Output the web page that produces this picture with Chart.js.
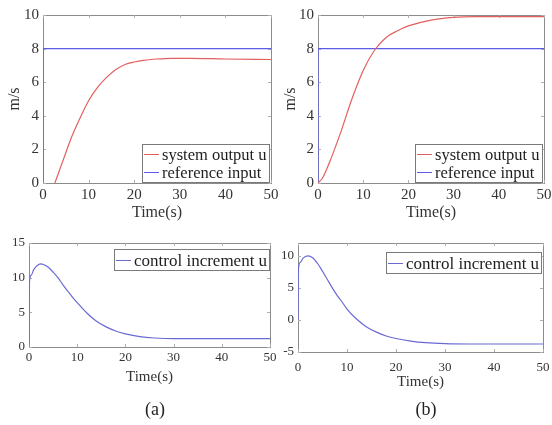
<!DOCTYPE html>
<html lang="en">
<head>
  <meta charset="UTF-8">
  <title>System output and control increment</title>
  <script src="https://cdn.jsdelivr.net/npm/chart.js"></script>
  <style>
    body {
      margin: 0;
      background: #ffffff;
      font-family: 'Liberation Serif', serif;
    }
    .wrap {
      position: relative;
      width: 552px;
      height: 425px;
      overflow: hidden;
    }
    canvas {
      position: absolute;
    }
    .cap {
      position: absolute;
      top: 399px;
      width: 40px;
      text-align: center;
      font-size: 18px;
      color: #222;
    }
  </style>
</head>
<body>
  <div class="wrap">
    <canvas id="outA" width="290" height="222" style="left:0;top:0"></canvas>
    <canvas id="outB" width="276" height="222" style="left:276px;top:0"></canvas>
    <canvas id="ctrlA" width="290" height="175" style="left:0;top:220px"></canvas>
    <canvas id="ctrlB" width="276" height="175" style="left:276px;top:220px"></canvas>
    <div class="cap" style="left:135px">(a)</div>
    <div class="cap" style="left:406px">(b)</div>
  </div>

  <script>
    // (a) system output vs reference
    const timeA = [2.6, 4, 5, 6, 7, 8, 10, 12, 14, 16, 18, 20, 22, 25, 28, 32, 40, 50];
    const outputA = [0, 1.05, 1.8, 2.55, 3.2, 3.8, 4.9, 5.7, 6.3, 6.75, 7.05, 7.2, 7.3, 7.38, 7.42, 7.42, 7.38, 7.35];
    // (b) system output vs reference
    const timeB = [0, 1, 2.5, 5, 7.5, 10, 12.5, 15, 17.5, 20, 25, 30, 35, 50];
    const outputB = [0, 0.3, 1.2, 3.0, 5.0, 6.7, 7.9, 8.65, 9.05, 9.35, 9.7, 9.86, 9.9, 9.9];
    // reference step
    const refTime = [0, 0, 50];
    const refInput = [0, 8, 8];
    // control increments
    const ctrlTimeA = [0, 0.1, 0.5, 1, 2, 2.5, 3, 4, 5, 6, 7, 8, 9, 10, 12, 14, 16, 18, 20, 23, 26, 30, 40, 50];
    const ctrlValA = [0, 9.4, 10.4, 11.2, 11.9, 12.0, 11.9, 11.5, 10.8, 10.0, 9.0, 8.1, 7.2, 6.4, 4.9, 3.7, 2.9, 2.3, 1.9, 1.5, 1.3, 1.2, 1.2, 1.2];
    const ctrlTimeB = [0, 0.1, 0.5, 1, 2, 3, 4, 5, 6, 7, 8, 9, 10, 12, 14, 16, 18, 20, 23, 26, 30, 35, 50];
    const ctrlValB = [0, 8.0, 9.0, 9.6, 10.0, 9.7, 8.8, 7.6, 6.3, 5.0, 3.8, 2.8, 1.7, 0.1, -1.1, -1.9, -2.5, -2.9, -3.3, -3.55, -3.7, -3.75, -3.75];

    const xTicks = [0, 10, 20, 30, 40, 50];
    const yTicksOut = [0, 2, 4, 6, 8, 10];
    const yTicksCtrlA = [0, 5, 10, 15];
    const yTicksCtrlB = [-5, 0, 5, 10];

    const RED = '#e2605f';
    const BLUE = '#5b5be8';
    const CTRL = '#6a6ad6';
    const SERIF = "'Liberation Serif', serif";

    const pts = (xs, ys) => xs.map((x, i) => ({ x: x, y: ys[i] }));

    // box around the plot area with small inward ticks (drawn under the lines)
    const frame = {
      id: 'frame',
      beforeDatasetsDraw(chart) {
        const { ctx, chartArea: a, scales } = chart;
        ctx.save();
        ctx.strokeStyle = '#8c8c8c';
        ctx.lineWidth = 1;
        ctx.strokeRect(Math.round(a.left) + 0.5, Math.round(a.top) + 0.5,
          Math.round(a.right - a.left), Math.round(a.bottom - a.top));
        ctx.strokeStyle = '#b0b0b0';
        ctx.beginPath();
        scales.x.ticks.forEach(t => {
          const px = Math.round(scales.x.getPixelForValue(t.value)) + 0.5;
          ctx.moveTo(px, a.bottom); ctx.lineTo(px, a.bottom - 3);
          ctx.moveTo(px, a.top); ctx.lineTo(px, a.top + 3);
        });
        scales.y.ticks.forEach(t => {
          const py = Math.round(scales.y.getPixelForValue(t.value)) + 0.5;
          ctx.moveTo(a.left, py); ctx.lineTo(a.left + 3, py);
          ctx.moveTo(a.right, py); ctx.lineTo(a.right - 3, py);
        });
        ctx.stroke();
        ctx.restore();
      }
    };

    // matlab-like legend box inside the axes
    const boxLegend = {
      id: 'boxLegend',
      afterDatasetsDraw(chart, args, opts) {
        const { ctx, chartArea: a } = chart;
        const items = chart.data.datasets;
        ctx.save();
        ctx.font = opts.font;
        const textW = Math.max(...items.map(d => ctx.measureText(d.label).width));
        const w = Math.round(2 + opts.lineLen + 3 + textW + 2);
        const h = items.length * opts.rowH + 3;
        const x = Math.round(a.right - opts.right - w);
        const y = Math.round(opts.top != null ? a.top + opts.top : a.bottom - opts.bottom - h);
        ctx.fillStyle = '#ffffff';
        ctx.fillRect(x, y, w, h);
        ctx.strokeStyle = '#7a7a7a';
        ctx.lineWidth = 1;
        ctx.strokeRect(x + 0.5, y + 0.5, w, h);
        ctx.textBaseline = 'middle';
        items.forEach((d, i) => {
          const cy = Math.round(y + 1.5 + opts.rowH * (i + 0.5)) + 0.5;
          ctx.strokeStyle = d.borderColor;
          ctx.beginPath();
          ctx.moveTo(x + 2, cy);
          ctx.lineTo(x + 2 + opts.lineLen, cy);
          ctx.stroke();
          ctx.fillStyle = '#1e1e1e';
          ctx.fillText(d.label, x + 2 + opts.lineLen + 3, cy + 1);
        });
        ctx.restore();
      }
    };

    function makeChart(id, datasets, cfg) {
      return new Chart(document.getElementById(id), {
        type: 'line',
        data: { datasets: datasets },
        plugins: [frame, boxLegend],
        options: {
          responsive: false,
          animation: false,
          events: [],
          layout: { padding: cfg.padding },
          elements: { point: { radius: 0 }, line: { borderWidth: 1.2 } },
          plugins: {
            legend: { display: false },
            tooltip: { enabled: false },
            boxLegend: cfg.legend
          },
          scales: {
            x: {
              type: 'linear',
              min: 0,
              max: 50,
              grid: { display: false, drawTicks: false },
              border: { display: false },
              afterBuildTicks: s => { s.ticks = xTicks.map(v => ({ value: v })); },
              afterFit: s => { s.height = cfg.xH; s.paddingLeft = 0; s.paddingRight = 0; },
              ticks: {
                padding: cfg.xTickPad,
                maxRotation: 0,
                autoSkip: false,
                color: '#333',
                font: { family: SERIF, size: cfg.tickSize }
              },
              title: {
                display: true,
                text: 'Time(s)',
                color: '#333',
                padding: { top: 0, bottom: cfg.xTitlePad },
                font: { family: SERIF, size: cfg.xTitleSize }
              }
            },
            y: {
              min: cfg.yMin,
              max: cfg.yMax,
              grid: { display: false, drawTicks: false },
              border: { display: false },
              afterBuildTicks: s => { s.ticks = cfg.yTicks.map(v => ({ value: v })); },
              afterFit: s => { s.width = cfg.yW; s.paddingTop = 0; s.paddingBottom = 0; },
              ticks: {
                padding: 4,
                color: '#333',
                font: { family: SERIF, size: cfg.tickSize }
              },
              title: {
                display: !!cfg.yTitle,
                text: cfg.yTitle || '',
                color: '#333',
                padding: { top: 5, bottom: 0 },
                font: { family: SERIF, size: 16 }
              }
            }
          }
        }
      });
    }

    const outLegend = { font: "16.5px 'Liberation Serif', serif", lineLen: 15, rowH: 17.5, right: 2, bottom: 1 };
    const ctrlLegend = { font: "17px 'Liberation Serif', serif", lineLen: 15, rowH: 18, right: 1, top: 6 };

    makeChart('outA', [
      { label: 'system output u', data: pts(timeA, outputA), borderColor: RED, cubicInterpolationMode: 'monotone' },
      { label: 'reference input', data: pts(refTime, refInput), borderColor: BLUE }
    ], {
      padding: { left: 0, right: 19, top: 15, bottom: 0 },
      xH: 39, yW: 43, xTickPad: 3, xTitlePad: 0, tickSize: 15, xTitleSize: 16,
      yMin: 0, yMax: 10, yTicks: yTicksOut, yTitle: 'm/s', legend: outLegend
    });

    makeChart('outB', [
      { label: 'system output u', data: pts(timeB, outputB), borderColor: RED, cubicInterpolationMode: 'monotone' },
      { label: 'reference input', data: pts(refTime, refInput), borderColor: BLUE }
    ], {
      padding: { left: 0, right: 8, top: 15, bottom: 0 },
      xH: 39, yW: 42, xTickPad: 3, xTitlePad: 0, tickSize: 15, xTitleSize: 16,
      yMin: 0, yMax: 10, yTicks: yTicksOut, yTitle: 'm/s', legend: outLegend
    });

    makeChart('ctrlA', [
      { label: 'control increment u', data: pts(ctrlTimeA, ctrlValA), borderColor: CTRL, cubicInterpolationMode: 'monotone' }
    ], {
      padding: { left: 0, right: 20, top: 23, bottom: 0 },
      xH: 48, yW: 29, xTickPad: 3, xTitlePad: 9, tickSize: 13, xTitleSize: 15,
      yMin: 0, yMax: 15, yTicks: yTicksCtrlA, legend: ctrlLegend
    });

    makeChart('ctrlB', [
      { label: 'control increment u', data: pts(ctrlTimeB, ctrlValB), borderColor: CTRL, cubicInterpolationMode: 'monotone' }
    ], {
      padding: { left: 0, right: 9, top: 23, bottom: 0 },
      xH: 43, yW: 22, xTickPad: 8, xTitlePad: 4, tickSize: 13, xTitleSize: 15,
      yMin: -5, yMax: 12, yTicks: yTicksCtrlB, legend: Object.assign({}, ctrlLegend, { right: 2, top: 9 })
    });
  </script>
</body>
</html>
